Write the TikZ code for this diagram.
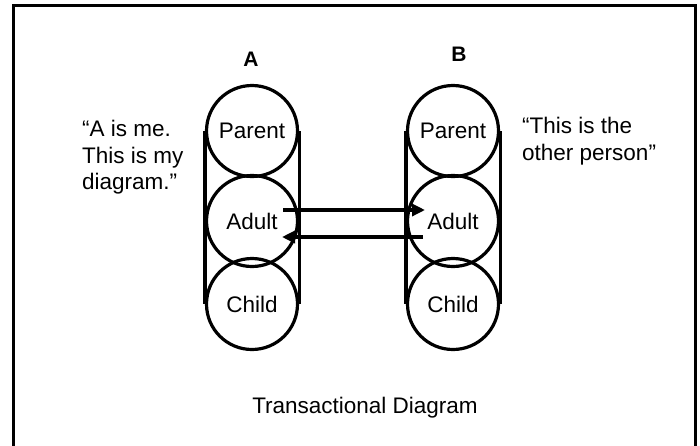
\documentclass[tikz,border=0pt]{standalone}
\usepackage{fontspec}
\setmainfont{Liberation Sans}
\usetikzlibrary{arrows.meta}

\begin{document}
\begin{tikzpicture}[x=1pt,y=-1pt]
\tikzstyle{every node}+=[inner sep=0pt]
\tikzstyle{state}=[circle, draw=black, line width=3.2pt, minimum size=91pt, font=\fontsize{22.5}{27}\selectfont]
\tikzstyle{side}=[black, line width=3.2pt]
\tikzstyle{msg}=[black, line width=3.5pt, -{Triangle[length=13pt,width=12pt]}]
\tikzstyle{quote}=[align=left, anchor=north west, font=\fontsize{22.5}{26.5}\selectfont]
\clip (0,0) rectangle (700,445);
\draw [black, line width=3pt] (13,5) rectangle (695,480);
\node [state] (pa) at (252,131) {Parent};
\node [state] (aa) at (252,221) {Adult};
\node [state] (ca) at (252,304) {Child};
\node [state] (pb) at (453,131) {Parent};
\node [state] (ab) at (453,221) {Adult};
\node [state] (cb) at (453,304) {Child};
\draw [side] (pa.west) -- (ca.west);
\draw [side] (pa.east) -- (ca.east);
\draw [side] (pb.west) -- (cb.west);
\draw [side] (pb.east) -- (cb.east);
\node [font=\bfseries\fontsize{21}{24}\selectfont] (la) at (251,59) {A};
\node [font=\bfseries\fontsize{21}{24}\selectfont] (lb) at (459,54) {B};
\coordinate (a1) at ([xshift=31pt,yshift=11pt]aa.center);
\coordinate (b1) at ([xshift=-28pt,yshift=11pt]ab.center);
\coordinate (b2) at ([xshift=-30pt,yshift=-16pt]ab.center);
\coordinate (a2) at ([xshift=30pt,yshift=-16pt]aa.center);
\draw [msg] (a1) -- (b1);
\draw [msg] (b2) -- (a2);
\node [quote] (qa) at (82,120) {“A is me.\\This is my\\diagram.”};
\node [quote] (qb) at (522,117) {“This is the\\other person”};
\node [font=\fontsize{22.5}{27}\selectfont] (title) at (365,408) {Transactional Diagram};
\end{tikzpicture}
\end{document}
